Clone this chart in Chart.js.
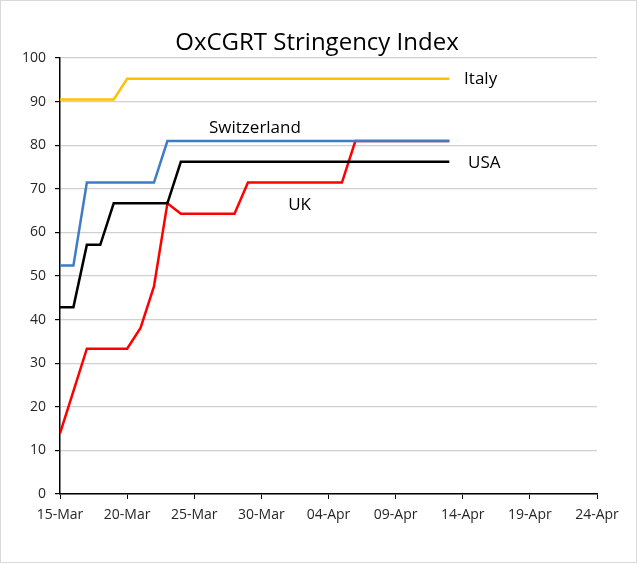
<!DOCTYPE html>
<html>
<head>
<meta charset="utf-8">
<script src="https://cdn.jsdelivr.net/npm/chart.js@4"></script>
<style>
  html, body { margin: 0; padding: 0; background: #fff; }
  #wrap { width: 639px; height: 565px; }
</style>
</head>
<body>
<div id="wrap"><canvas id="c" width="639" height="565"></canvas></div>
<script>
// ─── Data ───
const dates = ['15-Mar','16-Mar','17-Mar','18-Mar','19-Mar','20-Mar','21-Mar','22-Mar','23-Mar','24-Mar',
  '25-Mar','26-Mar','27-Mar','28-Mar','29-Mar','30-Mar','31-Mar','01-Apr','02-Apr','03-Apr',
  '04-Apr','05-Apr','06-Apr','07-Apr','08-Apr','09-Apr','10-Apr','11-Apr','12-Apr','13-Apr'];
const xTickLabels = ['15-Mar','20-Mar','25-Mar','30-Mar','04-Apr','09-Apr','14-Apr','19-Apr','24-Apr'];
const yTicks = [0,10,20,30,40,50,60,70,80,90,100];

const italy = [90.48,90.48,90.48,90.48,90.48,95.24,95.24,95.24,95.24,95.24,
  95.24,95.24,95.24,95.24,95.24,95.24,95.24,95.24,95.24,95.24,
  95.24,95.24,95.24,95.24,95.24,95.24,95.24,95.24,95.24,95.24];
const switzerland = [52.38,52.38,71.43,71.43,71.43,71.43,71.43,71.43,80.95,80.95,
  80.95,80.95,80.95,80.95,80.95,80.95,80.95,80.95,80.95,80.95,
  80.95,80.95,80.95,80.95,80.95,80.95,80.95,80.95,80.95,80.95];
const usa = [42.86,42.86,57.14,57.14,66.67,66.67,66.67,66.67,66.67,76.19,
  76.19,76.19,76.19,76.19,76.19,76.19,76.19,76.19,76.19,76.19,
  76.19,76.19,76.19,76.19,76.19,76.19,76.19,76.19,76.19,76.19];
const uk = [13.89,23.6,33.33,33.33,33.33,33.33,38.1,47.62,66.67,64.29,
  64.29,64.29,64.29,64.29,71.43,71.43,71.43,71.43,71.43,71.43,
  71.43,71.43,80.95,80.95,80.95,80.95,80.95,80.95,80.95,80.95];

const seriesLabels = [
  { text: 'Italy',       x: 30.1, y: 95.2 },
  { text: 'Switzerland', x: 11.1, y: 83.9 },
  { text: 'USA',         x: 30.4, y: 75.9 },
  { text: 'UK',          x: 17.0, y: 66.3 }
];

const pts = arr => arr.map((v, i) => ({ x: i, y: v }));
const FONT = "'Open Sans', 'Noto Sans', sans-serif";

// ─── Extras: frame, title, series labels ───
const extras = {
  id: 'extras',
  afterDraw(chart) {
    const { ctx, scales: { x, y } } = chart;
    ctx.save();
    ctx.strokeStyle = '#d9d9d9';
    ctx.lineWidth = 1;
    ctx.strokeRect(0.5, 0.5, 636, 562);

    ctx.fillStyle = '#000';
    ctx.font = `24px ${FONT}`;
    ctx.textAlign = 'center';
    ctx.textBaseline = 'middle';
    ctx.fillText('OxCGRT Stringency Index', 317, 43);

    ctx.font = `17px ${FONT}`;
    ctx.textAlign = 'left';
    seriesLabels.forEach(l => ctx.fillText(l.text, x.getPixelForValue(l.x), y.getPixelForValue(l.y)));
    ctx.restore();
  }
};

const line = (data, color) => ({
  data: pts(data), borderColor: color, borderWidth: 2.5, pointRadius: 0, tension: 0, fill: false
});

new Chart(document.getElementById('c'), {
  type: 'line',
  data: {
    datasets: [
      line(italy, '#FFC000'),
      line(switzerland, '#3C7DC4'),
      line(usa, '#000000'),
      line(uk, '#FF0000')
    ]
  },
  options: {
    responsive: false,
    animation: false,
    layout: { padding: { left: 0, right: 42, top: 58, bottom: 41 } },
    plugins: { legend: { display: false }, tooltip: { enabled: false }, title: { display: false } },
    scales: {
      x: {
        type: 'linear', min: 0, max: 40,
        afterFit: s => { s.height = 30; },
        afterBuildTicks: s => { s.ticks = xTickLabels.map((_, i) => ({ value: i * 5 })); },
        ticks: { callback: (v, i) => xTickLabels[i], color: '#262626', font: { family: FONT, size: 14 }, maxRotation: 0, padding: 8 },
        grid: { display: true, drawOnChartArea: false, drawTicks: true, tickLength: 5, color: '#000' },
        border: { color: '#000', width: 1.5 }
      },
      y: {
        min: 0, max: 100,
        afterFit: s => { s.width = 60; },
        afterBuildTicks: s => { s.ticks = yTicks.map(v => ({ value: v })); },
        ticks: { color: '#262626', font: { family: FONT, size: 14 }, padding: 9 },
        grid: { color: '#d0d0d0', lineWidth: 1.2, tickLength: 5, tickColor: '#000' },
        border: { color: '#000', width: 1.5 }
      }
    }
  },
  plugins: [extras]
});
</script>
</body>
</html>
